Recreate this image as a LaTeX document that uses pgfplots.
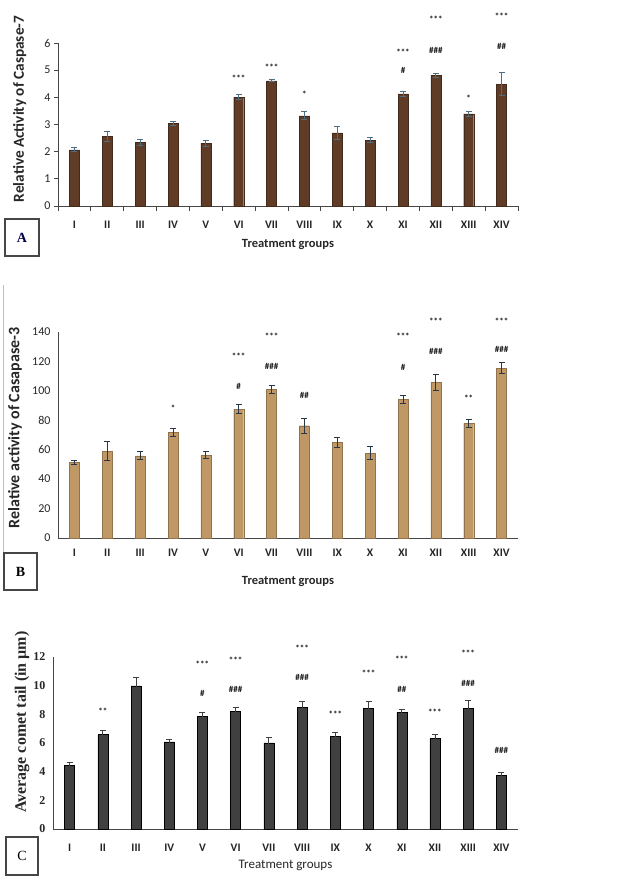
\documentclass[border=0pt]{standalone}
\usepackage{fontspec}
\setmainfont{Carlito}
\newfontfamily\serifletter{Liberation Serif}
\usepackage{pgfplots}
\pgfplotsset{compat=1.18}
\usepackage{pgfplotstable}

\definecolor{brownA}{RGB}{96,60,38}
\definecolor{errA}{RGB}{80,110,130}
\definecolor{tanB}{RGB}{192,152,102}
\definecolor{errB}{RGB}{40,55,70}
\definecolor{grayC}{RGB}{64,64,64}
\definecolor{axisgray}{RGB}{70,70,70}

\pgfplotstableread{
x y e
1 2.07 0.08
2 2.56 0.18
3 2.34 0.12
4 3.05 0.07
5 2.31 0.11
6 4.01 0.09
7 4.61 0.04
8 3.32 0.15
9 2.69 0.24
10 2.42 0.09
11 4.13 0.08
12 4.80 0.08
13 3.39 0.09
14 4.49 0.43
}\dataA

\pgfplotstableread{
x y e
1 51.5 1.5
2 59.1 6.4
3 55.8 2.7
4 72.0 2.7
5 56.2 2.3
6 87.6 2.9
7 100.9 2.9
8 76.3 5.0
9 64.8 3.4
10 57.6 4.4
11 94.1 2.5
12 105.6 5.5
13 77.9 2.5
14 115.3 3.7
}\dataB

\pgfplotstableread{
x y e
1 4.44 0.23
2 6.58 0.30
3 9.98 0.58
4 6.07 0.16
5 7.84 0.30
6 8.21 0.30
7 6.00 0.40
8 8.51 0.37
9 6.44 0.30
10 8.44 0.44
11 8.14 0.23
12 6.30 0.30
13 8.44 0.54
14 3.72 0.23
}\dataC

\pgfplotsset{
  panel/.style={
    scale only axis,
    xmin=0.5, xmax=14.5, ymin=0,
    clip=false,
    axis x line=bottom, axis y line=left,
    axis line style={-, axisgray, line width=0.9pt},
    xtick={1,...,14},
    xticklabels={I,II,III,IV,V,VI,VII,VIII,IX,X,XI,XII,XIII,XIV},
    major x tick style={draw=none},
    /pgf/number format/assume math mode=true,
    yticklabel style={font=\fontsize{12}{13}\selectfont, text=black!85},
    xticklabel style={font=\bfseries\fontsize{11.5}{13}\selectfont, text=black!85, yshift=-8pt},
    xlabel style={font=\bfseries\fontsize{12.5}{14}\selectfont, text=black!85},
    ylabel style={font=\bfseries\fontsize{15.3}{17}\selectfont, text=black!85},
  },
}
\tikzset{ann/.style={font=\bfseries\fontsize{9}{10}\selectfont, text=black!90, inner sep=0pt}}

\begin{document}
\begin{tikzpicture}
\path[use as bounding box] (0pt,0pt) rectangle (625pt,880pt);

% ---------- Panel A ----------
\begin{axis}[panel,
  at={(58pt,674pt)}, anchor=origin,
  width=460pt, height=163pt,
  ymax=6, ytick={0,1,...,6},
  minor xtick={0.5,1.5,...,14.5},
  minor x tick style={axisgray, line width=0.9pt},
  minor tick length=5pt,
  tick align=outside,
  major y tick style={axisgray, line width=0.9pt},
  major tick length=4pt,
  ylabel={Relative Activity of Caspase-7},
  ylabel style={at={(axis description cs:-0.083,0.595)}, anchor=center},
  xlabel={Treatment groups},
  xlabel style={at={(axis description cs:0.5,-0.239)}, anchor=center},
]
\addplot[ybar, bar width=10pt, fill=brownA, draw=brownA!70!black,
  error bars/.cd, y dir=both, y explicit,
  error bar style={errA, line width=0.9pt},
  error mark options={rotate=90, mark size=3pt, errA, line width=0.9pt}]
  table[x=x, y=y, y error=e]{\dataA};
\node[ann] at (axis cs:6,4.71) {***};
\node[ann] at (axis cs:7,5.10) {***};
\node[ann] at (axis cs:8,4.10) {*};
\node[ann] at (axis cs:11,5.67) {***};
\node[ann] at (axis cs:11,4.98) {\#};
\node[ann] at (axis cs:12,6.86) {***};
\node[ann] at (axis cs:12,5.73) {\#\#\#};
\node[ann] at (axis cs:13,3.95) {*};
\node[ann] at (axis cs:14,7.00) {***};
\node[ann] at (axis cs:14,5.88) {\#\#};
\end{axis}
\node[draw=axisgray, line width=1.1pt, minimum width=34pt, minimum height=37pt, inner sep=0pt]
  at (22pt,642.5pt) {\serifletter\bfseries\fontsize{14}{16}\selectfont\textcolor{blue!30!black}{A}};

\draw[black!25, line width=0.6pt] (3pt,595pt) -- (3pt,327pt);

% ---------- Panel B ----------
\begin{axis}[panel,
  at={(58pt,342pt)}, anchor=origin,
  width=460pt, height=206pt,
  ymax=140, ytick={0,20,...,140},
  major tick length=0pt,
  ylabel={Relative activity of Casapase-3},
  ylabel style={at={(axis description cs:-0.0935,0.534)}, anchor=center, font=\bfseries\fontsize{16}{18}\selectfont},
  xlabel={Treatment groups},
  xlabel style={at={(axis description cs:0.5,-0.209)}, anchor=center},
  yticklabel style={xshift=-4pt},
]
\addplot[ybar, bar width=10pt, fill=tanB, draw=tanB!75!black,
  error bars/.cd, y dir=both, y explicit,
  error bar style={errB, line width=0.9pt},
  error mark options={rotate=90, mark size=3pt, errB, line width=0.9pt}]
  table[x=x, y=y, y error=e]{\dataB};
\node[ann] at (axis cs:4,88) {*};
\node[ann] at (axis cs:6,123.5) {***};
\node[ann] at (axis cs:6,103) {\#};
\node[ann] at (axis cs:7,137) {***};
\node[ann] at (axis cs:7,116.7) {\#\#\#};
\node[ann] at (axis cs:8,96.8) {\#\#};
\node[ann] at (axis cs:11,137) {***};
\node[ann] at (axis cs:11,116) {\#};
\node[ann] at (axis cs:12,147.4) {***};
\node[ann] at (axis cs:12,127) {\#\#\#};
\node[ann] at (axis cs:13,94.8) {**};
\node[ann] at (axis cs:14,147.4) {***};
\node[ann] at (axis cs:14,128) {\#\#\#};
\end{axis}
\node[draw=axisgray, line width=1.1pt, minimum width=33pt, minimum height=37pt, inner sep=0pt]
  at (20.5pt,308.5pt) {\serifletter\bfseries\fontsize{14}{16}\selectfont B};

% ---------- Panel C ----------
\begin{axis}[panel,
  at={(53pt,51pt)}, anchor=origin,
  width=465pt, height=172pt,
  ymax=12, ytick={0,2,...,12},
  major tick length=0pt,
  yticklabel style={font=\serifletter\bfseries\fontsize{12}{13}\selectfont, xshift=-4pt},
  ylabel={Average comet tail (in µm)},
  ylabel style={at={(axis description cs:-0.0667,0.622)}, anchor=center, font=\serifletter\bfseries\fontsize{16}{18}\selectfont},
  xlabel={Treatment groups},
  xlabel style={at={(axis description cs:0.5,-0.209)}, anchor=center, font=\fontsize{13}{14}\selectfont},
  xticklabel style={yshift=-4pt},
]
\addplot[ybar, bar width=10pt, fill=grayC, draw=black,
  error bars/.cd, y dir=both, y explicit,
  error bar style={black!75, line width=0.8pt},
  error mark options={rotate=90, mark size=3pt, black!75, line width=0.8pt}]
  table[x=x, y=y, y error=e]{\dataC};
\node[ann] at (axis cs:2,8.20) {**};
\node[ann] at (axis cs:5,11.47) {***};
\node[ann] at (axis cs:5,9.44) {\#};
\node[ann] at (axis cs:6,11.80) {***};
\node[ann] at (axis cs:6,9.72) {\#\#\#};
\node[ann] at (axis cs:8,12.63) {***};
\node[ann] at (axis cs:8,10.58) {\#\#\#};
\node[ann] at (axis cs:9,7.98) {***};
\node[ann] at (axis cs:10,10.84) {***};
\node[ann] at (axis cs:11,11.86) {***};
\node[ann] at (axis cs:11,9.72) {\#\#};
\node[ann] at (axis cs:12,8.14) {***};
\node[ann] at (axis cs:13,12.28) {***};
\node[ann] at (axis cs:13,10.14) {\#\#\#};
\node[ann] at (axis cs:14,5.49) {\#\#\#};
\end{axis}
\node[draw=axisgray, line width=1.1pt, minimum width=32pt, minimum height=38pt, inner sep=0pt]
  at (22pt,24pt) {\serifletter\fontsize{14}{16}\selectfont C};

\end{tikzpicture}
\end{document}
